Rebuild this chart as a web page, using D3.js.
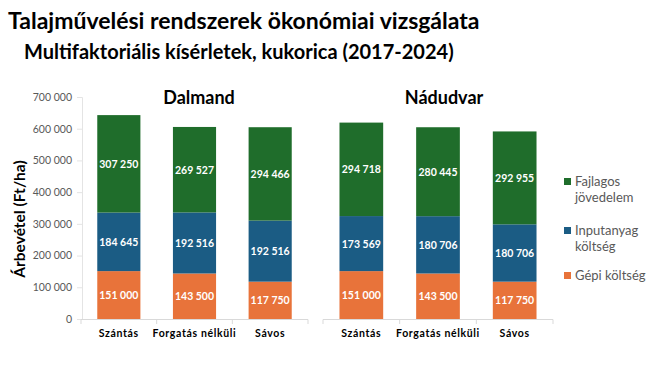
<!DOCTYPE html>
<html>
<head>
<meta charset="utf-8">
<script src="https://cdn.jsdelivr.net/npm/d3@7"></script>
<style>
    body { margin: 0; background: #fff; }
    text { font-family: Lato, "Open Sans", sans-serif; }
</style>
</head>
<body>
<div id="chart"></div>
<script>
// chart data
var sites = ['Dalmand', 'Nádudvar'];
var categories = ['Szántás', 'Forgatás nélküli', 'Sávos'];
var seriesNames = ['Gépi költség', 'Inputanyag költség', 'Fajlagos jövedelem'];
var legendLines = [['Gépi költség'], ['Inputanyag', 'költség'], ['Fajlagos', 'jövedelem']];
var gepi = [[151000, 143500, 117750], [151000, 143500, 117750]];
var input = [[184645, 192516, 192516], [173569, 180706, 180706]];
var jovedelem = [[307250, 269527, 294466], [294718, 280445, 292955]];
var yTicks = [0, 100000, 200000, 300000, 400000, 500000, 600000, 700000];

var colors = ['#e8733a', '#1b5c84', '#1f6d2b'];

var svg = d3.select('#chart')
    .append('svg')
    .attr('width', 667)
    .attr('height', 371);

// titles
svg.append('text')
    .attr('x', 8).attr('y', 29)
    .attr('font-size', 23).attr('font-weight', 'bold')
    .attr('fill', '#000')
    .text('Talajművelési rendszerek ökonómiai vizsgálata');
svg.append('text')
    .attr('x', 24).attr('y', 59)
    .attr('font-size', 20).attr('font-weight', 'bold')
    .attr('fill', '#000')
    .text('Multifaktoriális kísérletek, kukorica (2017-2024)');

var y = d3.scaleLinear().domain([0, 700000]).range([319, 97]);

// y axis
var yAxis = svg.append('g')
    .attr('transform', 'translate(82,0)')
    .call(d3.axisLeft(y).tickValues(yTicks).tickSize(5).tickPadding(5)
        .tickFormat(function (d) { return d === 0 ? '0' : d3.format(',')(d).replace(/,/g, ' '); }));
yAxis.select('.domain').attr('stroke', '#e4e4e4');
yAxis.selectAll('.tick line').attr('stroke', '#e4e4e4');
yAxis.selectAll('.tick text')
    .attr('fill', '#595959')
    .attr('font-size', 10.5)
    .attr('font-family', 'Lato, sans-serif');

svg.append('text')
    .attr('transform', 'translate(25,219) rotate(-90)')
    .attr('text-anchor', 'middle')
    .attr('font-size', 15.5).attr('font-weight', 'bold')
    .attr('fill', '#000')
    .text('Árbevétel (Ft/ha)');

var panelRanges = [[81, 308], [323, 553]];

sites.forEach(function (site, s) {
    var x = d3.scaleBand().domain(categories).range(panelRanges[s]).paddingInner(0.43).paddingOuter(0.215);

    var rows = categories.map(function (c, i) {
        return { cat: c, a: gepi[s][i], b: input[s][i], c2: jovedelem[s][i] };
    });
    var stack = d3.stack().keys(['a', 'b', 'c2'])(rows);

    // baseline with ticks at band edges
    var base = svg.append('g');
    base.append('line')
        .attr('x1', panelRanges[s][0]).attr('x2', panelRanges[s][1])
        .attr('y1', 319.5).attr('y2', 319.5)
        .attr('stroke', '#d9d9d9');
    var step = (panelRanges[s][1] - panelRanges[s][0]) / categories.length;
    d3.range(categories.length + 1).forEach(function (k) {
        base.append('line')
            .attr('x1', panelRanges[s][0] + k * step).attr('x2', panelRanges[s][0] + k * step)
            .attr('y1', 319.5).attr('y2', 324)
            .attr('stroke', '#d9d9d9');
    });

    stack.forEach(function (layer, li) {
        var g = svg.append('g').attr('fill', colors[li]);
        g.selectAll('rect')
            .data(layer)
            .enter().append('rect')
            .attr('x', function (d) { return x(d.data.cat); })
            .attr('width', x.bandwidth())
            .attr('y', function (d) { return y(d[1]); })
            .attr('height', function (d) { return y(d[0]) - y(d[1]); });
        svg.append('g').selectAll('text')
            .data(layer)
            .enter().append('text')
            .attr('x', function (d) { return x(d.data.cat) + x.bandwidth() / 2; })
            .attr('y', function (d) { return (y(d[0]) + y(d[1])) / 2 + 4; })
            .attr('text-anchor', 'middle')
            .attr('font-size', 10.5).attr('font-weight', 'bold')
            .attr('fill', '#fff')
            .text(function (d) { return d3.format(',')(d[1] - d[0]).replace(/,/g, ' '); });
    });

    // category labels
    svg.append('g').selectAll('text')
        .data(categories)
        .enter().append('text')
        .attr('x', function (d) { return x(d) + x.bandwidth() / 2; })
        .attr('y', 337)
        .attr('text-anchor', 'middle')
        .attr('font-size', 10.5).attr('font-weight', 'bold')
        .attr('letter-spacing', 0.65)
        .attr('fill', '#000')
        .text(function (d) { return d; });

    // panel title
    svg.append('text')
        .attr('x', s === 0 ? 199 : 444).attr('y', 104)
        .attr('text-anchor', 'middle')
        .attr('font-size', 18).attr('font-weight', 'bold')
        .attr('fill', '#000')
        .text(site);
});

// legend
var legendY = [280, 235, 186];
legendLines.forEach(function (lines, i) {
    var g = svg.append('g').attr('transform', 'translate(564,' + legendY[i] + ')');
    g.append('rect')
        .attr('x', 0).attr('y', -8)
        .attr('width', 7).attr('height', 7)
        .attr('fill', colors[i]);
    lines.forEach(function (t, k) {
        g.append('text')
            .attr('x', 11).attr('y', k * 16)
            .attr('font-size', 13)
            .attr('fill', '#595959')
            .text(t);
    });
});
</script>
</body>
</html>
